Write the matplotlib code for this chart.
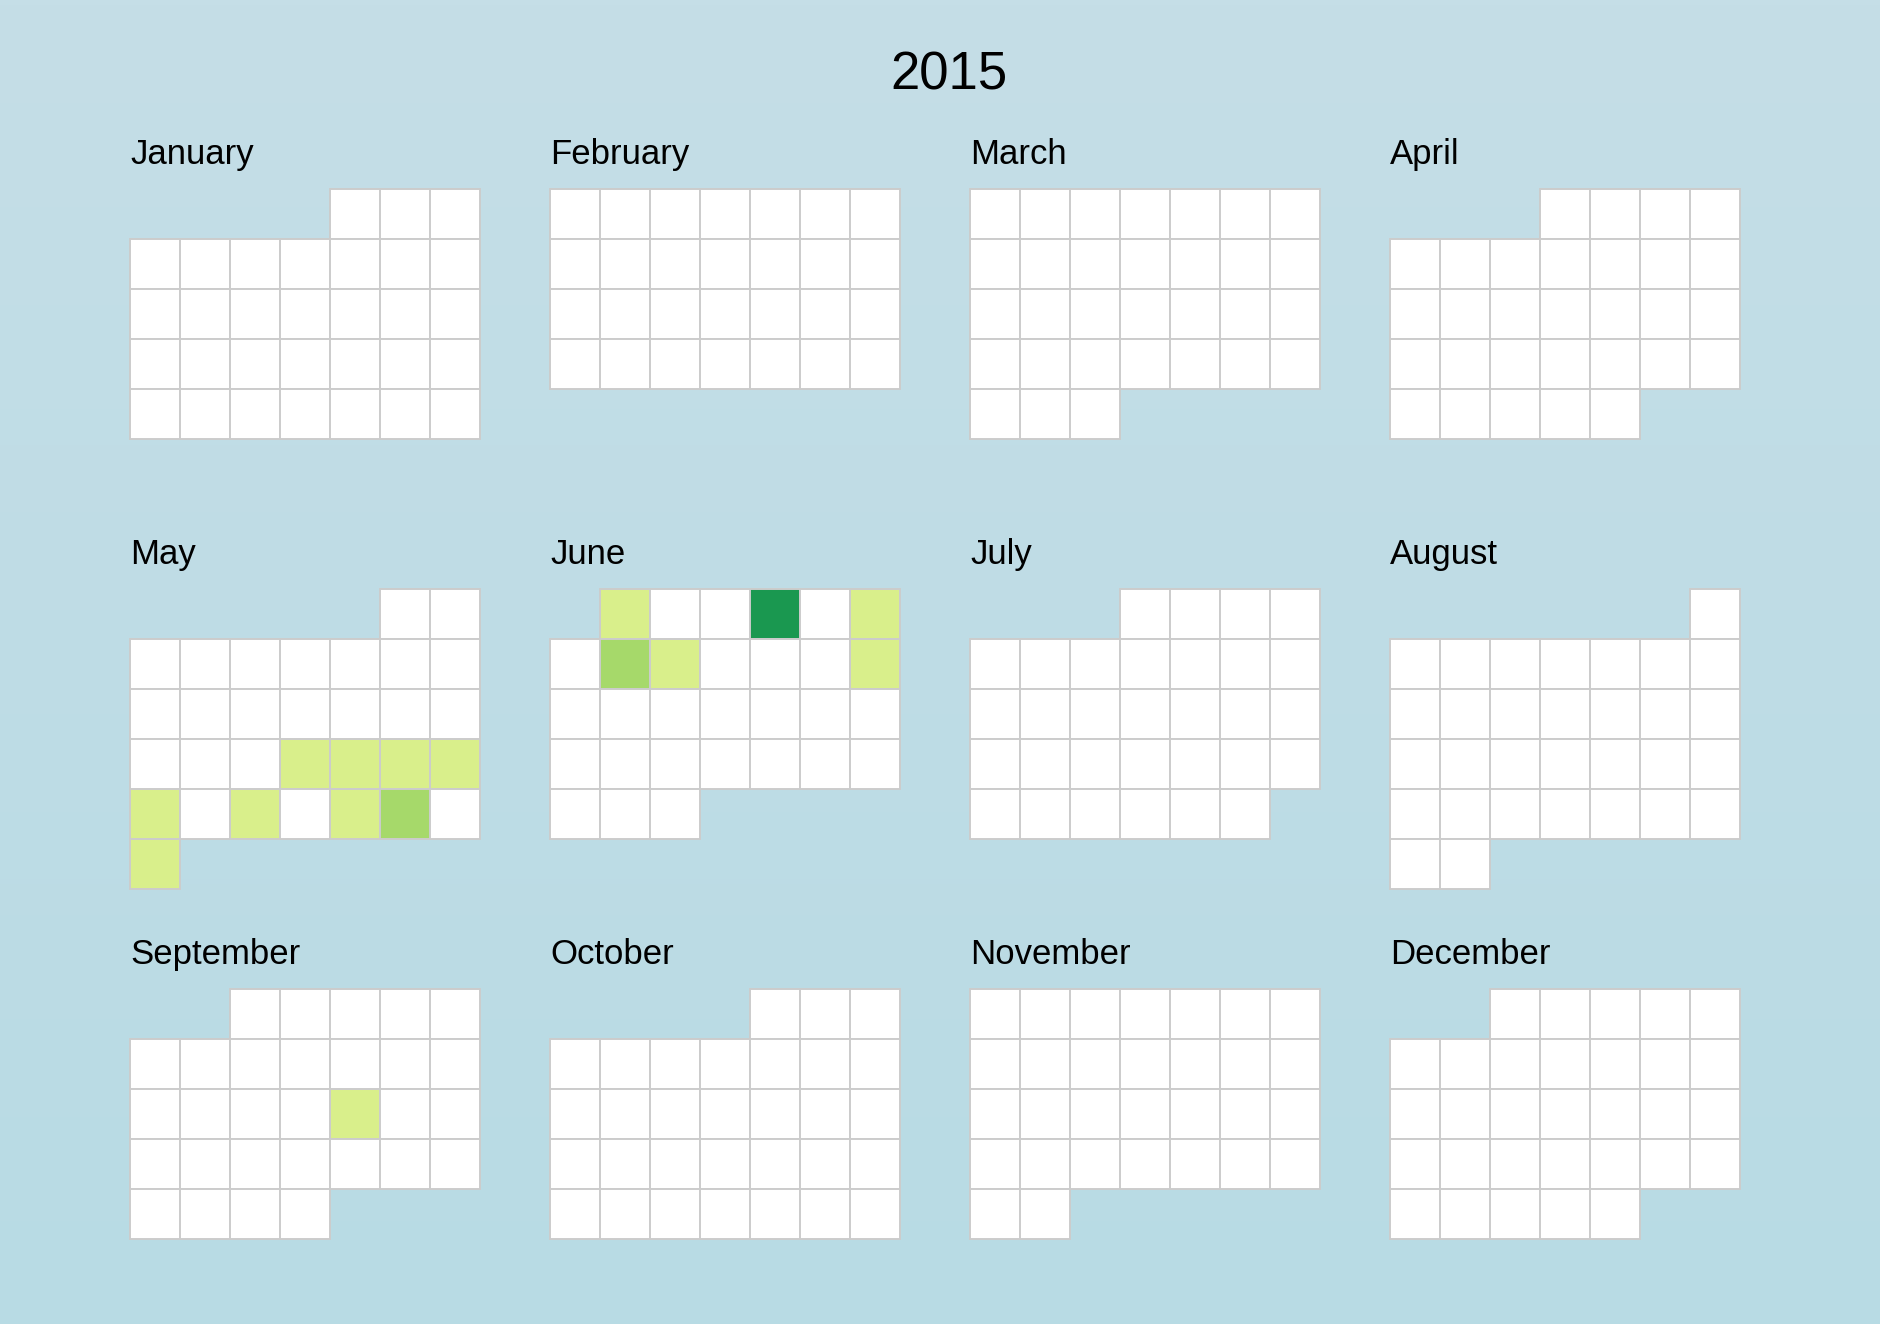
import datetime as dt
import numpy as np
import matplotlib.pyplot as plt
from matplotlib.patches import Rectangle

plt.rcParams['font.family'] = ['Liberation Sans', 'DejaVu Sans']

year = 2015
month_names = ['January', 'February', 'March', 'April', 'May', 'June',
               'July', 'August', 'September', 'October', 'November', 'December']

# days with a value (level 1 = light, 2 = medium, 3 = dark)
event_dates = ['2015-05-20', '2015-05-21', '2015-05-22', '2015-05-23',
               '2015-05-24', '2015-05-26', '2015-05-28', '2015-05-29',
               '2015-05-31', '2015-06-01', '2015-06-04', '2015-06-06',
               '2015-06-08', '2015-06-09', '2015-06-13', '2015-09-17']
event_levels = [1, 1, 1, 1,
                1, 1, 1, 2,
                1, 1, 3, 1,
                2, 1, 1, 1]
level_colors = {1: '#d9ef8b', 2: '#a6d96a', 3: '#1a9850'}

values = {dt.date.fromisoformat(d): v for d, v in zip(event_dates, event_levels)}

W, H = 1880, 1324
cell = 50
x0, y0 = 130, 189
dx, dy = 420, 400

fig = plt.figure(figsize=(W / 100, H / 100), dpi=100)
ax = fig.add_axes([0, 0, 1, 1])
ax.set_xlim(0, W)
ax.set_ylim(H, 0)
ax.axis('off')

# soft vertical background gradient
grad = np.linspace(0, 1, 256).reshape(-1, 1)
top = np.array([0xc5, 0xde, 0xe7]) / 255
bot = np.array([0xb8, 0xdb, 0xe4]) / 255
img = top + (bot - top) * grad[..., None]
ax.imshow(img, extent=[0, W, H, 0], aspect='auto', zorder=0)

ax.text(949, 90, str(year), ha='center', va='baseline', fontsize=38, color='black')

for m in range(12):
    px = x0 + (m % 4) * dx
    py = y0 + (m // 4) * dy
    ax.text(px, py - 25, month_names[m], ha='left', va='baseline', fontsize=25, color='black')
    first = dt.date(year, m + 1, 1)
    offset = (first.weekday() + 1) % 7  # Sunday-first
    d = first
    while d.month == m + 1:
        idx = d.day - 1 + offset
        col, row = idx % 7, idx // 7
        fc = level_colors.get(values.get(d), 'white')
        ax.add_patch(Rectangle((px + col * cell, py + row * cell), cell, cell,
                               facecolor=fc, edgecolor='#cccccc', linewidth=1.4, zorder=2))
        d += dt.timedelta(days=1)

fig.savefig('out.png', dpi=100)
